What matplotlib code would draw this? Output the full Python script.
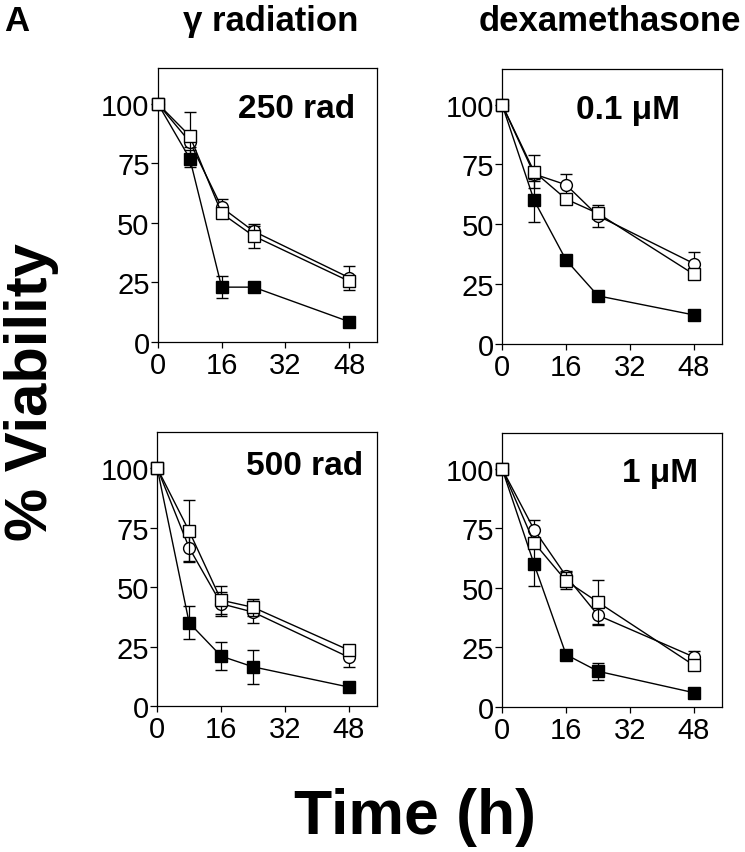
import matplotlib
matplotlib.use("Agg")
import matplotlib.pyplot as plt

plt.rcParams['font.family'] = ['Liberation Sans', 'DejaVu Sans']

times = [0, 8, 16, 24, 48]
xticks = [0, 16, 32, 48]
yticks = [0, 25, 50, 75, 100]

# panel: 250 rad
tl_circle = [100, 84, 56.5, 46.5, 27]
tl_circle_err = [0, 2, 3.5, 2, 5]
tl_square = [100, 86.5, 54, 44.5, 25.5]
tl_square_err = [0, 10, 2, 5, 2]
tl_filled = [100, 77, 23, 23, 8.5]
tl_filled_err = [0, 3.5, 4.5, 1, 1.5]

# panel: 0.1 uM
tr_circle = [100, 71, 66.5, 53.5, 33.5]
tr_circle_err = [0, 3, 4.5, 4.5, 5]
tr_square = [100, 72, 60.5, 54.5, 29]
tr_square_err = [0, 7, 2, 2, 2]
tr_filled = [100, 60, 35, 20, 12]
tr_filled_err = [0, 9, 1.5, 1.5, 2]

# panel: 500 rad
bl_circle = [100, 66.5, 43, 39.5, 20.5]
bl_circle_err = [0, 5.5, 5, 4.5, 4]
bl_square = [100, 73.5, 44.5, 41.5, 23.5]
bl_square_err = [0, 13, 6, 3.5, 2]
bl_filled = [100, 35, 21, 16.5, 8]
bl_filled_err = [0, 7, 6, 7, 1]

# panel: 1 uM
br_circle = [100, 74.5, 55, 38.5, 21]
br_circle_err = [0, 4, 2, 3.5, 2.5]
br_square = [100, 69, 53, 44, 17.5]
br_square_err = [0, 2, 3.5, 9.5, 2]
br_filled = [100, 60, 22, 15, 6]
br_filled_err = [0, 9, 1.5, 3.5, 1]

panel_labels = ['250 rad', '0.1 μM', '500 rad', '1 μM']
column_titles = ['γ radiation', 'dexamethasone']

fig = plt.figure(figsize=(7.45, 8.53), dpi=100)

rects = [
    [0.212, 0.598, 0.294, 0.321],
    [0.674, 0.596, 0.295, 0.322],
    [0.211, 0.171, 0.295, 0.321],
    [0.674, 0.170, 0.295, 0.321],
]
label_pos = [(0.90, 94.5), (0.81, 94.5), (0.936, 97.5), (0.89, 95)]

panels = [
    (tl_circle, tl_circle_err, tl_square, tl_square_err, tl_filled, tl_filled_err),
    (tr_circle, tr_circle_err, tr_square, tr_square_err, tr_filled, tr_filled_err),
    (bl_circle, bl_circle_err, bl_square, bl_square_err, bl_filled, bl_filled_err),
    (br_circle, br_circle_err, br_square, br_square_err, br_filled, br_filled_err),
]

ms = 8.5
lw = 1.0
for rect, data, lab, lp in zip(rects, panels, panel_labels, label_pos):
    ax = fig.add_axes(rect)
    c, ce, s, se, f, fe = data
    common = dict(color='black', lw=lw, elinewidth=0.9, capsize=4, capthick=0.9, clip_on=False)
    ax.errorbar(times, f, yerr=fe, marker='s', ms=ms, mfc='black', mec='black', mew=1.0, zorder=3, **common)
    ax.errorbar(times, c, yerr=ce, marker='o', ms=ms, mfc='white', mec='black', mew=1.0, zorder=4, **common)
    ax.errorbar(times, s, yerr=se, marker='s', ms=ms, mfc='white', mec='black', mew=1.0, zorder=5, **common)
    ax.set_xlim(0, 55)
    ax.set_ylim(0, 115)
    ax.set_xticks(xticks)
    ax.set_yticks(yticks)
    ax.tick_params(direction='out', length=5, width=0.9, labelsize=21, colors='black')
    ax.tick_params(axis='y', pad=1)
    ax.tick_params(axis='x', pad=2, length=4.5)
    for sp in ax.spines.values():
        sp.set_linewidth(0.9)
    ax.text(lp[0], lp[1], lab, transform=ax.get_yaxis_transform(), ha='right', va='baseline',
            fontsize=24, fontweight='bold')

fig.text(0.005, 0.975, 'A', fontsize=25, fontweight='bold', ha='left', va='center')
fig.text(271 / 745, 0.975, column_titles[0], fontsize=25, fontweight='bold', ha='center', va='center')
fig.text(610 / 745, 0.975, column_titles[1], fontsize=25, fontweight='bold', ha='center', va='center')
fig.text(32 / 745, 1 - 392 / 853, '% Viability', fontsize=43, fontweight='bold', rotation=90,
         ha='center', va='center')
fig.text(415 / 745, 1 - 818 / 853, 'Time (h)', fontsize=45, fontweight='bold', ha='center', va='center')

fig.savefig('out.png', dpi=100)
